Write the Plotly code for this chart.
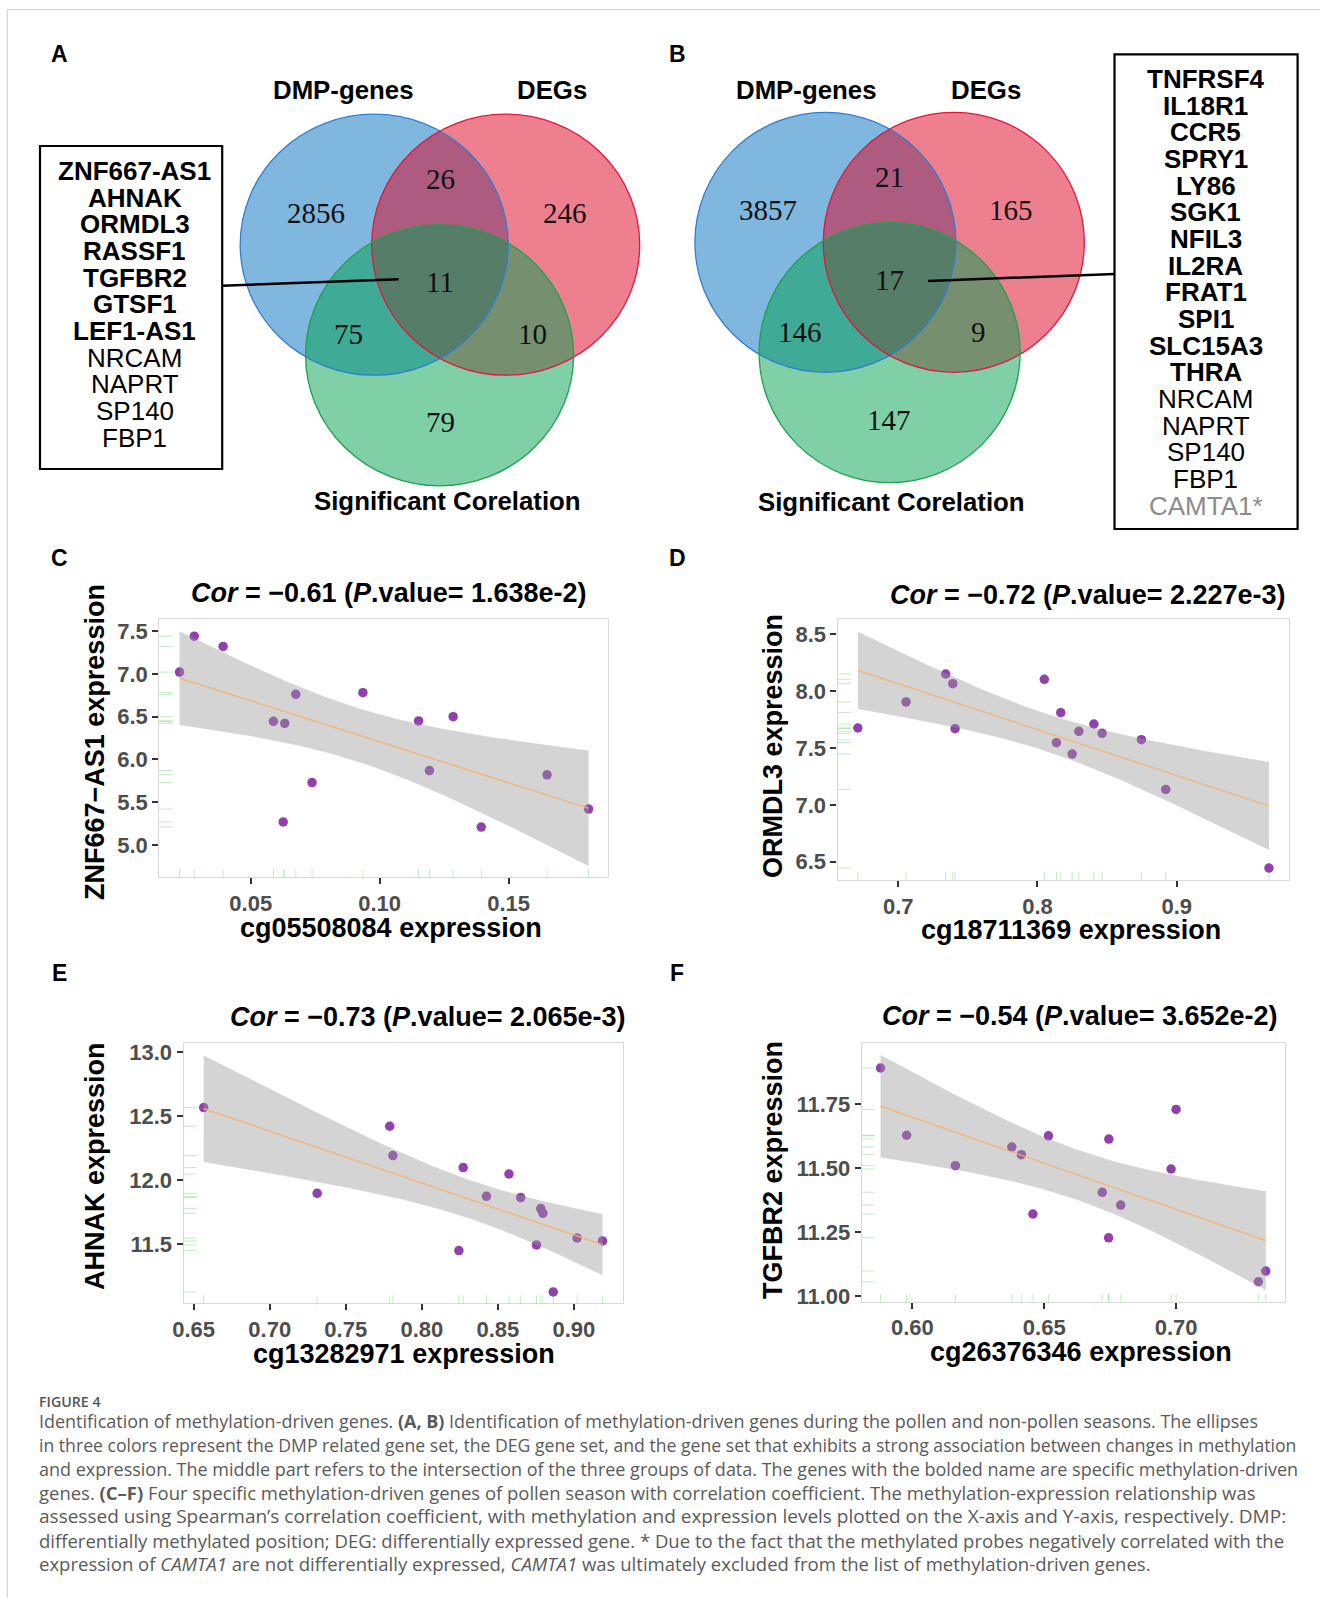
import math
import numpy as np
import plotly.graph_objects as go

W, H = 1320, 1598

# ---------------- data ----------------
# Venn regions: DMP only, DMP∩DEG, DEG only, all three, DMP∩Cor, DEG∩Cor, Cor only
venn_regions = ["DMP only", "DMP&DEG", "DEG only", "All", "DMP&Cor", "DEG&Cor", "Cor only"]
venn_A_counts = [2856, 26, 246, 11, 75, 10, 79]
venn_B_counts = [3857, 21, 165, 17, 146, 9, 147]
venn_set_names = ["DMP-genes", "DEGs", "Significant Corelation"]

genes_A = ["ZNF667-AS1", "AHNAK", "ORMDL3", "RASSF1", "TGFBR2", "GTSF1", "LEF1-AS1",
           "NRCAM", "NAPRT", "SP140", "FBP1"]
genes_A_style = ["bold"] * 7 + ["normal"] * 4
genes_B = ["TNFRSF4", "IL18R1", "CCR5", "SPRY1", "LY86", "SGK1", "NFIL3", "IL2RA", "FRAT1",
           "SPI1", "SLC15A3", "THRA", "NRCAM", "NAPRT", "SP140", "FBP1", "CAMTA1*"]
genes_B_style = ["bold"] * 12 + ["normal"] * 4 + ["gray"]

# Panel C: ZNF667-AS1 vs cg05508084
c_x = [0.0224, 0.0281, 0.0393, 0.0588, 0.0632, 0.0675, 0.0626, 0.0738, 0.0935, 0.1151,
       0.1193, 0.1285, 0.1394, 0.1649, 0.1810]
c_y = [7.02, 7.44, 7.32, 6.445, 6.42, 6.76, 5.27, 5.73, 6.78, 6.45, 5.87, 6.50, 5.21, 5.82, 5.42]
# Panel D: ORMDL3 vs cg18711369
d_x = [0.671, 0.7056, 0.7341, 0.7392, 0.7408, 0.8049, 0.8167, 0.8136, 0.8249, 0.8297,
       0.8405, 0.8464, 0.8746, 0.8921, 0.9662]
d_y = [7.676, 7.905, 8.151, 8.066, 7.67, 8.104, 7.811, 7.547, 7.447, 7.647, 7.711, 7.629,
       7.573, 7.136, 6.444]
# Panel E: AHNAK vs cg13282971
e_x = [0.6566, 0.7312, 0.7789, 0.7810, 0.8244, 0.8272, 0.8425, 0.8573, 0.8650, 0.8782,
       0.8796, 0.8754, 0.8864, 0.9021, 0.9188]
e_y = [12.568, 11.898, 12.422, 12.193, 11.451, 12.099, 11.875, 12.049, 11.865, 11.779,
       11.742, 11.495, 11.128, 11.549, 11.526]
# Panel F: TGFBR2 vs cg26376346
f_x = [0.5879, 0.5978, 0.6163, 0.6377, 0.6413, 0.6457, 0.6516, 0.6720, 0.6745, 0.6744,
       0.6790, 0.7000, 0.6981, 0.7312, 0.7340]
f_y = [11.892, 11.629, 11.510, 11.583, 11.553, 11.321, 11.627, 11.406, 11.614, 11.228,
       11.356, 11.730, 11.497, 11.056, 11.098]

c_xticks = [0.05, 0.10, 0.15]
c_yticks = [5.0, 5.5, 6.0, 6.5, 7.0, 7.5]
d_xticks = [0.7, 0.8, 0.9]
d_yticks = [6.5, 7.0, 7.5, 8.0, 8.5]
e_xticks = [0.65, 0.70, 0.75, 0.80, 0.85, 0.90]
e_yticks = [11.5, 12.0, 12.5, 13.0]
f_xticks = [0.60, 0.65, 0.70]
f_yticks = [11.00, 11.25, 11.50, 11.75]

cor_values = ["−0.61", "−0.72", "−0.73", "−0.54"]
p_values = ["1.638e-2", "2.227e-3", "2.065e-3", "3.652e-2"]
x_labels = ["cg05508084 expression", "cg18711369 expression", "cg13282971 expression",
            "cg26376346 expression"]
y_labels = ["ZNF667−AS1 expression", "ORMDL3 expression", "AHNAK expression",
            "TGFBR2 expression"]

caption_head = "FIGURE 4"
caption_lines = [
    "Identification of methylation-driven genes. <b>(A, B)</b> Identification of methylation-driven genes during the pollen and non-pollen seasons. The ellipses",
    "in three colors represent the DMP related gene set, the DEG gene set, and the gene set that exhibits a strong association between changes in methylation",
    "and expression. The middle part refers to the intersection of the three groups of data. The genes with the bolded name are specific methylation-driven",
    "genes. <b>(C–F)</b> Four specific methylation-driven genes of pollen season with correlation coefficient. The methylation-expression relationship was",
    "assessed using Spearman’s correlation coefficient, with methylation and expression levels plotted on the X-axis and Y-axis, respectively. DMP:",
    "differentially methylated position; DEG: differentially expressed gene. * Due to the fact that the methylated probes negatively correlated with the",
    "expression of <i>CAMTA1</i> are not differentially expressed, <i>CAMTA1</i> was ultimately excluded from the list of methylation-driven genes.",
]
caption_sizes = [17.98, 17.64, 17.99, 18.48, 19.02, 18.53, 18.55]

# ---------------- helpers ----------------
SANS = "Liberation Sans, Arial, sans-serif"
SERIF = "Liberation Serif, Times New Roman, serif"


def P(x):
    return x / W


def Q(y):
    return 1 - y / H


def t_quantile_975(df):
    ts = np.linspace(0, 30, 600001)
    c = math.exp(math.lgamma((df + 1) / 2) - math.lgamma(df / 2)) / math.sqrt(df * math.pi)
    pdf = c * (1 + ts ** 2 / df) ** (-(df + 1) / 2)
    cdf = 0.5 + np.concatenate([[0.0], np.cumsum((pdf[1:] + pdf[:-1]) / 2 * np.diff(ts))])
    return float(np.interp(0.975, cdf, ts))


fig = go.Figure()
shapes = []
annotations = []

# frame lines of the figure card
shapes.append(dict(type="line", xref="paper", yref="paper", x0=P(7), x1=1, y0=Q(9.5), y1=Q(9.5),
                   line=dict(color="#d4d4d4", width=1.2)))
shapes.append(dict(type="line", xref="paper", yref="paper", x0=P(7.3), x1=P(7.3), y0=Q(9.5), y1=0,
                   line=dict(color="#d4d4d4", width=1.2)))

# ---------------- scatter panels ----------------
panels = [
    dict(letter="C", x=c_x, y=c_y, xr=[0.01456, 0.1885], yr=[4.623, 7.637], xt=c_xticks, yt=c_yticks,
         xf=".2f", yf=".1f", px=(159.3, 607.9), py=(619.3, 877.3),
         title_xy=(389, 593), xl_xy=(391, 928), yl_xy=(95, 742), let_xy=(59, 558)),
    dict(letter="D", x=d_x, y=d_y, xr=[0.6564, 0.9803], yr=[6.339, 8.632], xt=d_xticks, yt=d_yticks,
         xf=".1f", yf=".1f", px=(837.5, 1288.6), py=(619.3, 880.0),
         title_xy=(1087.5, 595), xl_xy=(1071, 930), yl_xy=(773, 746), let_xy=(677, 558)),
    dict(letter="E", x=e_x, y=e_y, xr=[0.6434, 0.9322], yr=[11.039, 13.070], xt=e_xticks, yt=e_yticks,
         xf=".2f", yf=".1f", px=(183.6, 622.9), py=(1043.3, 1303.3),
         title_xy=(428, 1016.5), xl_xy=(404, 1354), yl_xy=(95, 1166), let_xy=(59, 973)),
    dict(letter="F", x=f_x, y=f_y, xr=[0.5808, 0.7413], yr=[10.978, 11.991], xt=f_xticks, yt=f_yticks,
         xf=".2f", yf=".2f", px=(861.8, 1285.0), py=(1042.7, 1301.7),
         title_xy=(1079.5, 1016), xl_xy=(1081, 1352), yl_xy=(773, 1170), let_xy=(677, 973)),
]

layout_axes = {}
for i, pn in enumerate(panels):
    k = "" if i == 0 else str(i + 1)
    xa, ya = "x" + k, "y" + k
    x = np.array(pn["x"], dtype=float)
    y = np.array(pn["y"], dtype=float)
    n = len(x)
    xbar, ybar = x.mean(), y.mean()
    sxx = ((x - xbar) ** 2).sum()
    b1 = ((x - xbar) * (y - ybar)).sum() / sxx
    b0 = ybar - b1 * xbar
    s = math.sqrt(((y - (b0 + b1 * x)) ** 2).sum() / (n - 2))
    tq = t_quantile_975(n - 2)
    xs = np.linspace(x.min(), x.max(), 80)
    yh = b0 + b1 * xs
    se = s * np.sqrt(1 / n + (xs - xbar) ** 2 / sxx)
    up, lo = yh + tq * se, yh - tq * se

    # points
    fig.add_trace(go.Scatter(x=x, y=y, xaxis=xa, yaxis=ya, mode="markers",
                             marker=dict(color="#9140AE", size=9.5, line=dict(width=0)),
                             showlegend=False, hoverinfo="x+y"))
    # confidence ribbon (drawn over points, like geom_smooth)
    fig.add_trace(go.Scatter(x=np.concatenate([xs, xs[::-1]]), y=np.concatenate([up, lo[::-1]]),
                             xaxis=xa, yaxis=ya, mode="lines", fill="toself",
                             fillcolor="rgba(153,153,153,0.42)", line=dict(width=0),
                             showlegend=False, hoverinfo="skip"))
    # fitted line
    fig.add_trace(go.Scatter(x=xs, y=yh, xaxis=xa, yaxis=ya, mode="lines",
                             line=dict(color="#F7B26E", width=1.2),
                             showlegend=False, hoverinfo="skip"))

    # rugs
    for xv in x:
        shapes.append(dict(type="line", xref=xa, yref=ya + " domain", x0=xv, x1=xv, y0=0, y1=0.03,
                           line=dict(color="rgba(60,200,60,0.32)", width=1), layer="above"))
    for yv in y:
        shapes.append(dict(type="line", xref=xa + " domain", yref=ya, x0=0, x1=0.03, y0=yv, y1=yv,
                           line=dict(color="rgba(60,200,60,0.32)", width=1), layer="above"))

    axis_common = dict(showgrid=False, zeroline=False, showline=True, mirror=True,
                       linecolor="#d9d9d9", linewidth=1.2, ticks="outside", ticklen=6,
                       tickwidth=2, tickcolor="#333333", automargin=False,
                       tickfont=dict(family=SANS, size=22, color="#4d4d4d", weight="bold"))
    layout_axes["xaxis" + k] = dict(axis_common, domain=[P(pn["px"][0]), P(pn["px"][1])],
                                    range=pn["xr"], tickvals=pn["xt"], tickformat=pn["xf"],
                                    anchor=ya)
    layout_axes["yaxis" + k] = dict(axis_common, domain=[Q(pn["py"][1]), Q(pn["py"][0])],
                                    range=pn["yr"], tickvals=pn["yt"], tickformat=pn["yf"],
                                    anchor=xa)

    tx, ty = pn["title_xy"]
    annotations.append(dict(xref="paper", yref="paper", x=P(tx), y=Q(ty), showarrow=False,
                            text="<b><i>Cor</i> = %s (<i>P</i>.value= %s)</b>" % (cor_values[i], p_values[i]),
                            font=dict(family=SANS, size=27, color="black"),
                            xanchor="center", yanchor="middle"))
    lx, ly = pn["xl_xy"]
    annotations.append(dict(xref="paper", yref="paper", x=P(lx), y=Q(ly), showarrow=False,
                            text="<b>%s</b>" % x_labels[i],
                            font=dict(family=SANS, size=27, color="black"),
                            xanchor="center", yanchor="middle"))
    yx, yy = pn["yl_xy"]
    annotations.append(dict(xref="paper", yref="paper", x=P(yx), y=Q(yy), showarrow=False,
                            text="<b>%s</b>" % y_labels[i], textangle=-90,
                            font=dict(family=SANS, size=27, color="black"),
                            xanchor="center", yanchor="middle"))
    ax_, ay_ = pn["let_xy"]
    annotations.append(dict(xref="paper", yref="paper", x=P(ax_), y=Q(ay_), showarrow=False,
                            text="<b>%s</b>" % pn["letter"],
                            font=dict(family=SANS, size=23, color="black"),
                            xanchor="center", yanchor="middle"))

# ---------------- Venn panels ----------------
venn_fill = ["rgba(0,112,192,0.5)", "rgba(220,0,30,0.5)", "rgba(0,160,80,0.5)"]
venn_line = ["#2F7FD0", "#E2173E", "#1FA24C"]

venns = [
    dict(letter="A", counts=venn_A_counts, let_xy=(59, 54),
         ell=[(374.2, 244.7), (505.7, 244.7), (439.6, 355.3)], r=(134.0, 130.5),
         pos=[(315.7, 212.7), (440.7, 179), (565.2, 212.7), (439.8, 282.3), (348.5, 334),
              (532.4, 334), (440.7, 422.3)],
         names_xy=[(343, 90), (552.2, 90), (447, 501)],
         box=(40, 146, 222.2, 469), genes=genes_A, gstyle=genes_A_style, gx=134.7, gy0=171,
         lead=((222.2, 285.7), (398.6, 279.3))),
    dict(letter="B", counts=venn_B_counts, let_xy=(677, 54),
         ell=[(825.4, 242.3), (953.8, 242.3), (889.6, 352.7)], r=(130.5, 130.0),
         pos=[(768.2, 210), (889.4, 176.7), (1011.4, 210), (889.4, 280), (800.2, 331.7),
              (978.6, 331.7), (889.4, 420)],
         names_xy=[(806, 90), (986.2, 90), (891.5, 501.7)],
         box=(1114.5, 54.3, 1297.6, 529), genes=genes_B, gstyle=genes_B_style, gx=1205.9, gy0=79,
         lead=((928.1, 281), (1114.5, 274))),
]
line_step = 26.67

for v in venns:
    rx, ry = v["r"]
    for j, (cx, cy) in enumerate(v["ell"]):
        shapes.append(dict(type="circle", xref="paper", yref="paper",
                           x0=P(cx - rx), x1=P(cx + rx), y0=Q(cy + ry), y1=Q(cy - ry),
                           fillcolor=venn_fill[j], line=dict(width=0), layer="above"))
    for j, (cx, cy) in enumerate(v["ell"]):
        shapes.append(dict(type="circle", xref="paper", yref="paper",
                           x0=P(cx - rx), x1=P(cx + rx), y0=Q(cy + ry), y1=Q(cy - ry),
                           fillcolor="rgba(0,0,0,0)", line=dict(width=1.3, color=venn_line[j]),
                           layer="above"))
    for cnt, (px_, py_) in zip(v["counts"], v["pos"]):
        annotations.append(dict(xref="paper", yref="paper", x=P(px_), y=Q(py_), showarrow=False,
                                text=str(cnt), font=dict(family=SERIF, size=29, color="#111111"),
                                xanchor="center", yanchor="middle"))
    for name, (nx, ny) in zip(venn_set_names, v["names_xy"]):
        annotations.append(dict(xref="paper", yref="paper", x=P(nx), y=Q(ny), showarrow=False,
                                text="<b>%s</b>" % name, font=dict(family=SANS, size=25.8, color="black"),
                                xanchor="center", yanchor="middle"))
    bx0, by0, bx1, by1 = v["box"]
    shapes.append(dict(type="rect", xref="paper", yref="paper", x0=P(bx0), x1=P(bx1),
                       y0=Q(by1), y1=Q(by0), line=dict(color="black", width=2.2),
                       fillcolor="rgba(0,0,0,0)", layer="above"))
    (l0x, l0y), (l1x, l1y) = v["lead"]
    shapes.append(dict(type="line", xref="paper", yref="paper", x0=P(l0x), y0=Q(l0y),
                       x1=P(l1x), y1=Q(l1y), line=dict(color="black", width=2.5), layer="above"))
    for gi, (g, st) in enumerate(zip(v["genes"], v["gstyle"])):
        txt = "<b>%s</b>" % g if st == "bold" else g
        col = "#8c8c8c" if st == "gray" else "black"
        annotations.append(dict(xref="paper", yref="paper", x=P(v["gx"]), y=Q(v["gy0"] + gi * line_step),
                                showarrow=False, text=txt,
                                font=dict(family=SANS, size=26, color=col),
                                xanchor="center", yanchor="middle"))
    lx, ly = v["let_xy"]
    annotations.append(dict(xref="paper", yref="paper", x=P(lx), y=Q(ly), showarrow=False,
                            text="<b>%s</b>" % v["letter"],
                            font=dict(family=SANS, size=23, color="black"),
                            xanchor="center", yanchor="middle"))

# ---------------- caption ----------------
CAP = "Open Sans, Lato, sans-serif"
annotations.append(dict(xref="paper", yref="paper", x=P(37), y=Q(1401), showarrow=False,
                        text=caption_head, font=dict(family=CAP, size=14.2, color="#555555", weight=600),
                        xanchor="left", yanchor="middle"))
for li, line in enumerate(caption_lines):
    annotations.append(dict(xref="paper", yref="paper", x=P(36.5), y=Q(1421 + li * 23.8), showarrow=False,
                            text=line, font=dict(family=CAP, size=caption_sizes[li], color="#5a5a5a"),
                            xanchor="left", yanchor="middle"))

fig.update_layout(
    width=W, height=H, autosize=False,
    margin=dict(l=0, r=0, t=0, b=0, pad=0, autoexpand=False),
    paper_bgcolor="white", plot_bgcolor="white",
    shapes=shapes, annotations=annotations, showlegend=False,
    **layout_axes,
)

css_js = ("var s=document.createElement('style');"
          "s.innerHTML='html,body{margin:0 !important;padding:0 !important;overflow:hidden !important;}';"
          "document.head.appendChild(s);document.body.style.margin='0px';")
fig.write_html("out.html", config={"displayModeBar": False}, post_script=css_js)
